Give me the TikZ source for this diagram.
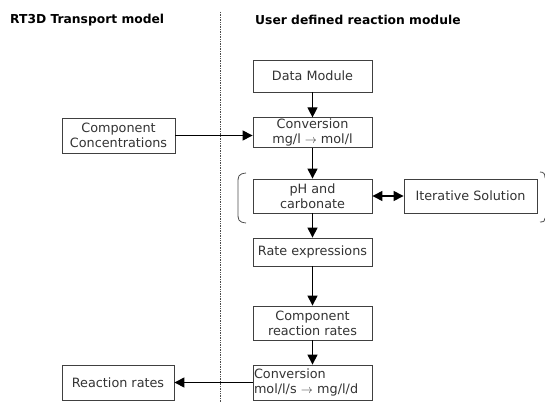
\documentclass[tikz,border=0pt]{standalone}
\usepackage{fontspec}
\setmainfont{DejaVu Sans}
\usetikzlibrary{arrows.meta}
\begin{document}
\begin{tikzpicture}[x=1pt,y=-1pt,
  box/.style={draw=black!75, line width=0.8pt, align=center, inner sep=1pt,
              font=\fontsize{12.8}{15}\selectfont, text=black!80},
  flow/.style={draw=black, line width=1.1pt, -{Triangle[width=10pt,length=10pt]}},
  both/.style={draw=black, line width=1.1pt, {Triangle[width=10pt,length=10pt]}-{Triangle[width=10pt,length=10pt]}},
  title/.style={font=\bfseries\fontsize{12.3}{14}\selectfont, anchor=west, inner sep=0pt}]
\useasboundingbox (0,0) rectangle (545,403);

% section titles and divider
\node[title] (tl) at (10,20) {RT3D Transport model};
\node[title] (tr) at (255,20) {User defined reaction module};
\draw[black!70, line width=0.7pt, densely dotted] (220,12) -- (220,403);

% boxes
\node[box, minimum width=119pt, minimum height=32pt] (data) at (312.5,76) {Data Module};
\node[box, minimum width=119pt, minimum height=27pt] (conv1) at (312.5,132.5) {Conversion\\mg/l $\rightarrow$ mol/l};
\node[box, minimum width=113pt, minimum height=35pt] (cc) at (118.5,135.5) {Component\\Concentrations};
\node[box, minimum width=119pt, minimum height=34pt] (ph) at (312.5,196) {pH and\\carbonate};
\node[box, minimum width=133pt, minimum height=34pt] (iter) at (470.5,196) {Iterative Solution};
\node[box, minimum width=119pt, minimum height=28pt] (rate) at (312.5,252) {Rate expressions};
\node[box, minimum width=119pt, minimum height=34pt] (crr) at (312.5,323) {Component\\reaction rates};
\node[box, minimum width=119pt, minimum height=35pt, align=left, text width=117pt] (conv2) at (312.5,382.5) {Conversion\\mol/l/s $\rightarrow$ mg/l/d};
\node[box, minimum width=112pt, minimum height=35pt] (rr) at (118,382.5) {Reaction rates};

% connectors
\draw[flow] (data) -- (conv1);
\draw[flow] (cc.east) -- (cc.east -| conv1.west);
\draw[flow] (conv1) -- (ph);
\draw[both] (ph) -- (iter);
\draw[flow] (ph) -- (rate);
\draw[flow] (rate) -- (crr);
\draw[flow] (crr) -- (conv2);
\draw[flow] (conv2) -- (rr);

% brackets round the iteration loop
\draw[black!70, line width=0.8pt] (246,173) .. controls (238,174) and (238,176) .. (238,184)
  -- (238,212) .. controls (238,220) and (238,222) .. (246,223);
\draw[black!70, line width=0.8pt] (540,172) .. controls (544,172) and (545,174) .. (545,178);
\draw[black!70, line width=0.8pt] (545,218) .. controls (545,221) and (544,222) .. (540,222);
\end{tikzpicture}
\end{document}
